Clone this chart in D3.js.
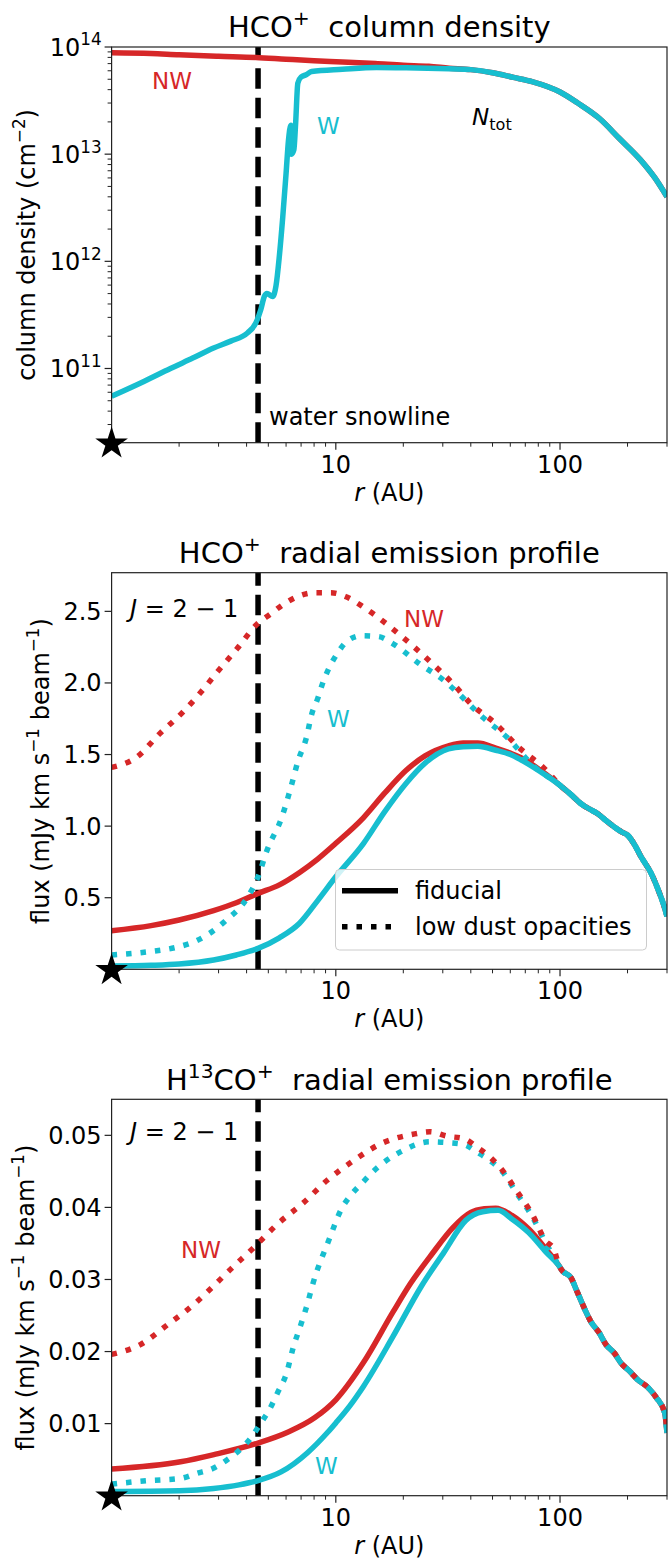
<!DOCTYPE html>
<html>
<head>
<meta charset="utf-8">
<script src="https://cdn.jsdelivr.net/npm/d3@7/dist/d3.min.js"></script>
<style>
  body { margin: 0; background: #fff; }
  svg { display: block; font-family: 'DejaVu Sans', sans-serif; }
  text { white-space: pre; }
</style>
</head>
<body>
<div id="chart"></div>
<script>
// ---- data (r in AU) ----
var snowline = 4.5;

// HCO+ column density (cm^-2)
var colNW = [[1,8.85e13],[1.5,8.7e13],[2,8.45e13],[3,8.2e13],[4.4,8.0e13],[6,7.7e13],[8,7.45e13],
  [10.7,7.25e13],[15,7.0e13],[20,6.75e13],[26,6.6e13],[32,6.35e13]];
var colW = [[1,5.5e10],[1.4,7.6e10],[1.83,1.0e11],[2.3,1.25e11],[2.85,1.55e11],[3.4,1.8e11],[4.04,2.15e11],
  [4.4,2.66e11],[4.63,3.55e11],[4.8,4.7e11],[4.93,5.0e11],[5.23,4.7e11],[5.41,5.9e11],[5.6,1.12e12],
  [5.8,2.6e12],[6.0,6.6e12],[6.15,1.35e13],[6.3,1.86e13],[6.34,1.0e13],[6.5,1.1e13],[6.62,1.95e13],
  [6.77,4.6e13],[7.0,5.25e13],[7.37,5.5e13],[7.8,5.9e13],[10.7,6.2e13],[15.2,6.45e13],[20.6,6.4e13],[32,6.25e13]];
var colTail = [[40,6.15e13],[50,5.75e13],[62,5.2e13],[75,4.75e13],[100,3.8e13],[120,3.0e13],[150,2.15e13],
  [184,1.4e13],[228,8.9e12],[265,6.0e12],[300,4.0e12]];

// HCO+ J=2-1 flux (mJy km s^-1 beam^-1)
var hcoNWfid = [[1,0.27],[1.5,0.305],[2,0.344],[2.85,0.41],[3.6,0.465],[4.5,0.53],[5.6,0.59],[6.87,0.675],
  [8.3,0.77],[10,0.88],[13.3,1.06],[16.5,1.23],[20.6,1.39],[25,1.49],[31.8,1.56],[37,1.58],[43,1.58],
  [51.7,1.545],[60,1.51],[66.6,1.48],[81.8,1.39]];
var hcoWfid = [[1,0.023],[1.5,0.028],[2,0.037],[2.85,0.065],[3.6,0.1],[4.5,0.146],[5.6,0.22],[6.87,0.32],
  [8.3,0.48],[10,0.646],[13.3,0.88],[16.5,1.1],[20.6,1.3],[25,1.44],[31.8,1.54],[37,1.555],[43,1.557],
  [51.7,1.53],[60,1.5],[66.6,1.465],[81.8,1.38]];
var hcoNWlow = [[1,1.41],[1.29,1.48],[1.64,1.646],[2.09,1.8],[2.61,1.97],[2.9,2.06],[3.63,2.24],[4.45,2.41],
  [5.1,2.48],[5.85,2.55],[6.8,2.605],[8.04,2.63],[9.5,2.63],[11.2,2.6],[13,2.54],[16.9,2.41],[22,2.26],
  [28,2.11],[34,1.98],[40,1.855],[51.7,1.715],[65.5,1.55],[85.5,1.4]];
var hcoWlow = [[1,0.1],[1.47,0.123],[2,0.158],[2.4,0.2],[2.73,0.25],[3.25,0.344],[4.05,0.506],[4.5,0.646],
  [4.93,0.83],[5.75,1.064],[6.3,1.27],[6.8,1.46],[7.4,1.62],[7.8,1.78],[8.3,1.89],[8.7,1.99],[9.3,2.1],
  [10.1,2.2],[11.2,2.29],[13,2.33],[15.5,2.324],[18,2.273],[23.6,2.134],[31,2.006],[34.7,1.936],
  [45.2,1.76],[58,1.62],[75.6,1.425]];
var hcoTail = [[100,1.285],[112,1.22],[123.7,1.158],[135,1.12],[146.8,1.088],[160,1.04],[174.6,0.994],
  [188,0.96],[200,0.937],[215,0.87],[230,0.785],[255,0.67],[278,0.53],[290,0.45],[300,0.37]];

// H13CO+ J=2-1 flux
var h13NWfid = [[1,0.0037],[2.03,0.0047],[2.86,0.0057],[4.5,0.0073],[6.1,0.0088],[8.04,0.0108],[10,0.0133],
  [13.3,0.0185],[18,0.0255],[21.6,0.0295],[26.8,0.0335],[33.3,0.0372],[40,0.0393],[46,0.0398],[51.7,0.0399],
  [61,0.0389],[72.5,0.037],[86.6,0.0342]];
var h13Wfid = [[1,0.0006],[2,0.0007],[2.85,0.001],[3.7,0.0015],[4.5,0.0021],[5.7,0.0033],[7.5,0.006],
  [9.2,0.0088],[10,0.0101],[11.5,0.0124],[13.3,0.0152],[18,0.0221],[24,0.029],[30.4,0.0338],[38,0.0382],
  [45.2,0.0394],[53,0.0396],[61,0.0384],[72.5,0.0365],[86.6,0.0338]];
var h13NWlow = [[1,0.0196],[1.35,0.021],[1.79,0.0238],[2.34,0.0266],[2.66,0.0282],[3.39,0.0314],[4.33,0.0345],
  [5.5,0.0377],[7.2,0.0407],[9.1,0.0437],[12,0.0465],[15.8,0.0488],[22.5,0.0502],[26.3,0.0505],[31.2,0.0499],
  [37.5,0.0495],[42.5,0.0484],[48.7,0.047],[55.5,0.0451],[64,0.0423],[75.6,0.0389],[86,0.0354],[93.9,0.0342]];
var h13Wlow = [[1,0.0016],[1.46,0.0021],[2.03,0.0024],[2.4,0.0031],[2.84,0.0038],[3.28,0.005],[3.74,0.0064],
  [4.18,0.008],[4.63,0.0101],[5.05,0.0119],[5.5,0.0143],[6.03,0.017],[6.45,0.0205],[7.03,0.024],[7.5,0.0268],
  [7.85,0.0291],[9.35,0.0356],[10.6,0.0398],[11.6,0.0416],[13.2,0.0435],[14.8,0.0451],[19.4,0.0477],
  [26.3,0.0491],[31.2,0.049],[37.5,0.0487],[42.5,0.0477],[48.7,0.0465],[55.5,0.0449],[64,0.042],
  [75.6,0.0386],[86,0.0352]];
var h13Tail = [[99,0.0319],[102.4,0.0312],[111.6,0.0303],[119.6,0.0282],[128,0.0261],[137,0.0242],
  [149.5,0.0226],[160,0.021],[174.6,0.0198],[187,0.0184],[204,0.0173],[222,0.0161],[247,0.015],
  [269,0.0136],[293,0.0115],[300,0.0087]];

// ticks
var xMajor = [10, 100];
var xMinor = [2,3,4,5,6,7,8,9,20,30,40,50,60,70,80,90,200,300];
var colMajor = [1e11, 1e12, 1e13, 1e14];
var hcoTicks = [0.5, 1.0, 1.5, 2.0, 2.5];
var h13Ticks = [0.01, 0.02, 0.03, 0.04, 0.05];

// ---- layout ----
var red = '#d62728', cyan = '#17becf';
var left = 111.6, right = 667;
var lw = 5.5;
var dotted = '5.5,9';

var svg = d3.select('#chart').append('svg')
  .attr('width', 668).attr('height', 1560);
svg.append('rect').attr('width', 668).attr('height', 1560).attr('fill', '#fff');

var x = d3.scaleLog().domain([1, 300]).range([left, right]);

// append text made of parts: {t, sup, sub, it}
var rich = function(sel, parts, size) {
  var shift = 0;
  parts.forEach(function(p) {
    var target = p.sup ? -0.42 * size : (p.sub ? 0.2 * size : 0);
    var t = sel.append('tspan').text(p.t).attr('dy', target - shift);
    if (p.sup || p.sub) t.attr('font-size', size * 0.7);
    if (p.it) t.attr('font-style', 'italic');
    shift = target;
  });
  return sel;
};

var label = function(g, px, py, parts, size, color, anchor) {
  var t = g.append('text')
    .attr('x', px).attr('y', py)
    .attr('font-size', size)
    .attr('fill', color || '#000')
    .attr('text-anchor', anchor || 'start');
  return rich(t, parts, size);
};

var panel = function(o) {
  var g = svg.append('g');
  var y = o.y;
  var top = o.top, bottom = o.bottom;
  var cid = 'clip' + o.id;

  g.append('clipPath').attr('id', cid)
    .append('rect').attr('x', left).attr('y', top)
    .attr('width', right - left).attr('height', bottom - top);

  // snowline
  g.append('line')
    .attr('x1', x(snowline)).attr('x2', x(snowline))
    .attr('y1', bottom).attr('y2', top)
    .attr('stroke', '#000').attr('stroke-width', lw)
    .attr('stroke-dasharray', '20.5,9');

  var line = d3.line()
    .x(function(d) { return x(d[0]); })
    .y(function(d) { return y(d[1]); })
    .curve(d3.curveMonotoneX);

  var lines = g.append('g').attr('clip-path', 'url(#' + cid + ')');
  o.series.forEach(function(s) {
    lines.append('path')
      .attr('d', line(s.data))
      .attr('fill', 'none')
      .attr('stroke', s.color)
      .attr('stroke-width', lw)
      .attr('stroke-dasharray', s.dash ? dotted : null)
      .attr('stroke-linejoin', 'round');
  });

  // frame
  g.append('rect')
    .attr('x', left).attr('y', top)
    .attr('width', right - left).attr('height', bottom - top)
    .attr('fill', 'none').attr('stroke', '#222').attr('stroke-width', 1.2);

  // x ticks
  g.selectAll('.xmaj').data(xMajor).enter().append('line')
    .attr('x1', x).attr('x2', x).attr('y1', bottom).attr('y2', bottom + 7)
    .attr('stroke', '#222').attr('stroke-width', 1.2);
  g.selectAll('.xmin').data(xMinor).enter().append('line')
    .attr('x1', x).attr('x2', x).attr('y1', bottom).attr('y2', bottom + 4)
    .attr('stroke', '#222').attr('stroke-width', 1);
  g.selectAll('.xlab').data(xMajor).enter().append('text')
    .attr('x', x).attr('y', bottom + 30)
    .attr('text-anchor', 'middle').attr('font-size', 24)
    .text(function(d) { return d; });
  label(g, (left + right) / 2, bottom + 58, [{t: 'r', it: true}, {t: ' (AU)'}], 24, '#000', 'middle');

  // y ticks
  g.selectAll('.ymaj').data(o.ticks).enter().append('line')
    .attr('x1', left - 7).attr('x2', left)
    .attr('y1', y).attr('y2', y)
    .attr('stroke', '#222').attr('stroke-width', 1.2);
  if (o.minor) {
    g.selectAll('.ymin').data(o.minor).enter().append('line')
      .attr('x1', left - 4).attr('x2', left)
      .attr('y1', y).attr('y2', y)
      .attr('stroke', '#222').attr('stroke-width', 1);
  }
  o.ticks.forEach(function(v) {
    label(g, left - 10, y(v) + 8.5, o.tickText(v), 24, '#000', 'end');
  });

  // y label
  var yl = g.append('text')
    .attr('transform', 'translate(' + o.ylabX + ',' + ((top + bottom) / 2) + ') rotate(-90)')
    .attr('text-anchor', 'middle').attr('font-size', 24);
  rich(yl, o.ylab, 24);

  // title
  label(g, (left + right) / 2, o.titleY, o.title, 29, '#000', 'middle');

  // star at the origin
  g.append('path')
    .attr('d', d3.symbol(d3.symbolStar, 330)())
    .attr('transform', 'translate(' + left + ',' + (bottom + 1) + ')')
    .attr('fill', '#000');

  return g;
};

// ---- panel 1: column density ----
var yCol = d3.scaleLog().domain([2.03e10, 1e14]).range([442.7, 47]);
var colMinor = [];
[1e10, 1e11, 1e12, 1e13].forEach(function(dec) {
  for (var k = 2; k <= 9; k++) {
    var v = k * dec;
    if (v >= 2.03e10 && v <= 1e14) colMinor.push(v);
  }
});
var p1 = panel({
  id: 1, top: 47, bottom: 442.7, y: yCol,
  ticks: colMajor, minor: colMinor,
  tickText: function(v) { return [{t: '10'}, {t: String(Math.round(Math.log10(v))), sup: true}]; },
  ylab: [{t: 'column density (cm'}, {t: '\u22122', sup: true}, {t: ')'}], ylabX: 35,
  title: [{t: 'HCO'}, {t: '+', sup: true}, {t: '  column density'}], titleY: 37,
  series: [
    {data: colNW.concat(colTail), color: red},
    {data: colW.concat(colTail), color: cyan}
  ]
});
label(p1, 152, 89, [{t: 'NW'}], 23, red);
label(p1, 317, 134, [{t: 'W'}], 23, cyan);
label(p1, 472, 125, [{t: 'N', it: true}, {t: 'tot', sub: true}], 23, '#000');
label(p1, 269, 425, [{t: 'water snowline'}], 24, '#000');

// ---- panel 2: HCO+ emission ----
var yHco = d3.scaleLinear().domain([0, 2.77]).range([969.3, 572.7]);
var fluxLab = [{t: 'flux (mJy km s'}, {t: '\u22121', sup: true}, {t: ' beam'}, {t: '\u22121', sup: true}, {t: ')'}];
var p2 = panel({
  id: 2, top: 572.7, bottom: 969.3, y: yHco,
  ticks: hcoTicks,
  tickText: function(v) { return [{t: v.toFixed(1)}]; },
  ylab: fluxLab, ylabX: 49,
  title: [{t: 'HCO'}, {t: '+', sup: true}, {t: '  radial emission profile'}], titleY: 563,
  series: [
    {data: hcoNWfid.concat(hcoTail), color: red},
    {data: hcoNWlow.concat(hcoTail), color: red, dash: true},
    {data: hcoWfid.concat(hcoTail), color: cyan},
    {data: hcoWlow.concat(hcoTail), color: cyan, dash: true}
  ]
});
label(p2, 130, 617, [{t: 'J', it: true}, {t: ' = 2 \u2212 1'}], 24, '#000');
label(p2, 404, 627, [{t: 'NW'}], 23, red);
label(p2, 327, 727, [{t: 'W'}], 23, cyan);

// legend
var leg = p2.append('g');
leg.append('rect')
  .attr('x', 335.5).attr('y', 869.5).attr('width', 311).attr('height', 80.5)
  .attr('rx', 4).attr('fill', '#fff').attr('fill-opacity', 0.8)
  .attr('stroke', '#ccc').attr('stroke-width', 1);
leg.append('line').attr('x1', 342).attr('x2', 398).attr('y1', 890.7).attr('y2', 890.7)
  .attr('stroke', '#000').attr('stroke-width', lw);
leg.append('line').attr('x1', 342).attr('x2', 398).attr('y1', 926.7).attr('y2', 926.7)
  .attr('stroke', '#000').attr('stroke-width', lw).attr('stroke-dasharray', dotted);
label(leg, 415, 899, [{t: 'fiducial'}], 24, '#000');
label(leg, 415, 935, [{t: 'low dust opacities'}], 24, '#000');

// ---- panel 3: H13CO+ emission ----
var yH13 = d3.scaleLinear().domain([0, 0.055]).range([1495.7, 1099.3]);
var p3 = panel({
  id: 3, top: 1099.3, bottom: 1495.7, y: yH13,
  ticks: h13Ticks,
  tickText: function(v) { return [{t: v.toFixed(2)}]; },
  ylab: fluxLab, ylabX: 34,
  title: [{t: 'H'}, {t: '13', sup: true}, {t: 'CO'}, {t: '+', sup: true}, {t: '  radial emission profile'}], titleY: 1090,
  series: [
    {data: h13NWfid.concat(h13Tail), color: red},
    {data: h13Wfid.concat(h13Tail), color: cyan},
    {data: h13Wlow.concat(h13Tail), color: cyan, dash: true},
    {data: h13NWlow.concat(h13Tail), color: red, dash: true}
  ]
});
label(p3, 130, 1140, [{t: 'J', it: true}, {t: ' = 2 \u2212 1'}], 24, '#000');
label(p3, 181, 1258, [{t: 'NW'}], 23, red);
label(p3, 315, 1474, [{t: 'W'}], 23, cyan);
</script>
</body>
</html>
